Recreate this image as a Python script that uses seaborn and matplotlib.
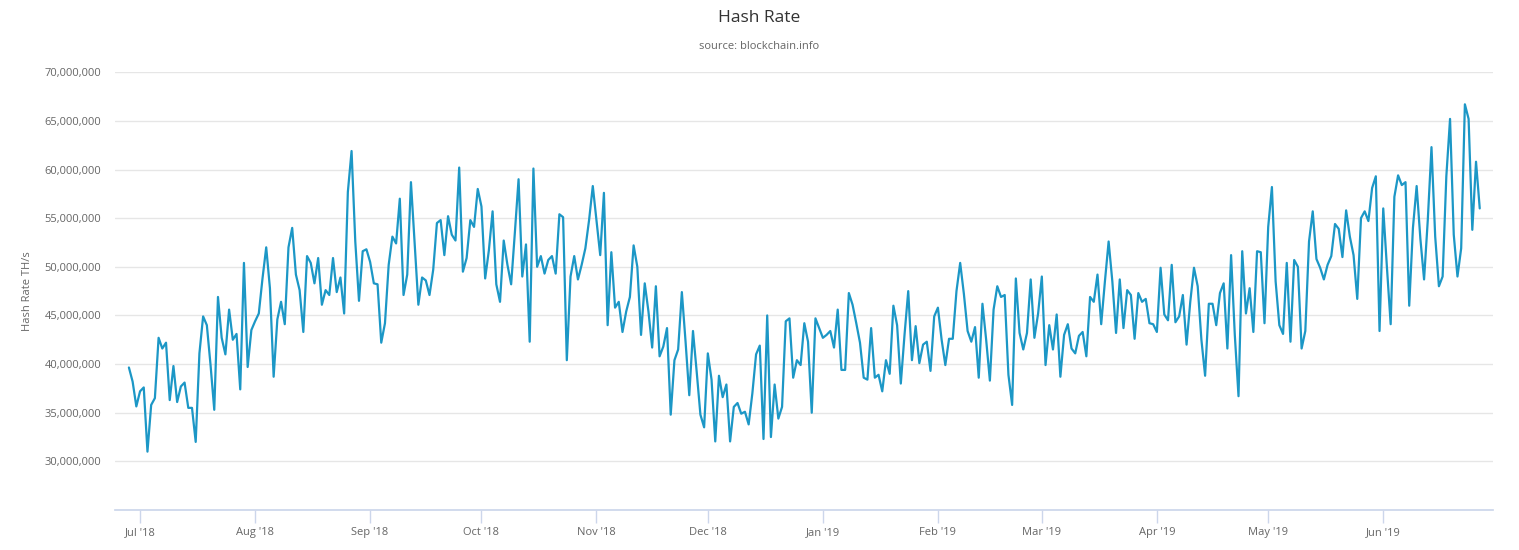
import pandas as pd
import matplotlib.pyplot as plt
import matplotlib.dates as mdates
import seaborn as sns
from matplotlib.ticker import FuncFormatter

# 日度算力数据 (百万 TH/s), 2018-06-28 起
start_date = '2018-06-28'
hash_rate_m = [
    39.65, 38.2, 35.65, 37.2, 37.6, 31.0, 35.8, 36.5, 42.7, 41.6, 42.2, 36.3, 39.8, 36.1, 37.7,
    38.1, 35.5, 35.5, 32.0, 41.1, 44.9, 44.0, 39.9, 35.3, 46.9, 42.7, 41.0, 45.6, 42.5,
    43.1, 37.4, 50.4, 39.7, 43.5, 44.4, 45.2, 48.8, 52.0, 47.8, 38.7, 44.6, 46.4, 44.1, 52.0,
    54.0, 49.2, 47.6, 43.3, 51.1, 50.4, 48.3, 50.9, 46.1, 47.6, 47.1, 50.9, 47.4, 48.9, 45.2, 57.7,
    61.9, 52.6, 46.5, 51.6, 51.8, 50.5, 48.3, 48.2, 42.2, 44.2, 50.2, 53.1, 52.4, 57.0, 47.1,
    49.2, 58.7, 52.4, 46.1, 48.9, 48.6, 47.1, 49.7, 54.5, 54.8, 51.2, 55.2, 53.3, 52.7, 60.2,
    49.5, 50.9, 54.8, 54.1, 58.0, 56.2, 48.8, 51.7, 55.7, 48.2, 46.4, 52.7, 50.2, 48.2, 53.5,
    59.0, 49.0, 52.3, 42.3, 60.1, 50.0, 51.1, 49.3, 50.7, 51.1, 49.3, 55.4, 55.1, 40.4, 49.0, 51.1,
    48.7, 50.2, 51.9, 54.8, 58.3, 54.8, 51.2, 57.6, 44.0, 51.5, 45.8, 46.4, 43.3, 45.4, 46.9,
    52.2, 50.0, 43.0, 48.3, 45.4, 41.7, 48.0, 40.8, 41.8, 43.7, 34.8, 40.4, 41.5, 47.4, 42.3, 36.8,
    43.4, 39.2, 34.8, 33.5, 41.1, 38.4, 32.05, 38.8, 36.6, 37.9, 32.05, 35.6, 36.0, 34.9, 35.1,
    33.8, 37.0, 41.0, 41.9, 32.3, 45.0, 32.5, 37.9, 34.4, 35.6, 44.4, 44.7, 38.6, 40.4, 39.9, 44.2,
    42.3, 35.0, 44.7, 43.7, 42.7, 43.0, 43.4, 41.7, 45.6, 39.4, 39.4, 47.3, 46.1, 44.2, 42.2,
    38.6, 38.4, 43.7, 38.6, 38.9, 37.2, 40.4, 39.0, 46.0, 44.0, 38.0, 43.0, 47.5, 40.4, 43.9, 40.1,
    42.0, 42.3, 39.3, 44.9, 45.8, 42.5, 39.9, 42.6, 42.6, 47.5, 50.4, 47.2, 43.4, 42.3, 43.8,
    38.6, 46.2, 42.5, 38.3, 45.6, 48.0, 46.9, 47.1, 38.9, 35.8, 48.8, 43.2, 41.5, 43.2, 48.7,
    42.7, 45.2, 49.0, 39.9, 44.0, 41.5, 45.1, 38.7, 43.0, 44.1, 41.6, 41.1, 42.9, 43.3, 40.8,
    46.9, 46.4, 49.2, 44.1, 48.5, 52.6, 48.5, 43.2, 48.7, 43.7, 47.6, 47.1, 42.6, 47.3, 46.4, 46.7,
    44.2, 44.1, 43.3, 49.9, 45.1, 44.5, 50.2, 44.3, 44.9, 47.1, 42.0, 46.4, 49.9, 48.0, 42.5,
    38.8, 46.2, 46.2, 44.0, 47.3, 48.3, 41.6, 51.2, 43.0, 36.7, 51.6, 45.2, 47.8, 43.3, 51.6, 51.5,
    44.2, 54.1, 58.2, 48.5, 44.0, 43.1, 50.4, 42.3, 50.7, 50.0, 41.6, 43.4, 52.6, 55.7, 50.8,
    49.9, 48.7, 50.2, 51.1, 54.4, 53.9, 51.0, 55.8, 53.1, 51.2, 46.7, 55.0, 55.7, 54.7, 58.1, 59.3,
    43.4, 56.0, 49.9, 44.1, 57.2, 59.4, 58.4, 58.7, 46.0, 54.0, 58.3, 52.9, 48.7, 54.8, 62.3,
    53.1, 48.0, 49.0, 59.3, 65.2, 53.3, 49.0, 51.9, 66.7, 65.2, 53.8, 60.8, 56.0,
]
y_ticks = [30e6, 35e6, 40e6, 45e6, 50e6, 55e6, 60e6, 65e6, 70e6]

df = pd.DataFrame({
    'Date': pd.date_range(start_date, periods=len(hash_rate_m), freq='D'),
    'HashRate': [v * 1e6 for v in hash_rate_m],
})

sns.set_theme(style='white')
plt.rcParams['font.family'] = ['Open Sans', 'DejaVu Sans']

fig = plt.figure(figsize=(15.19, 5.5), dpi=100)
ax = fig.add_axes([0.0757, 0.0727, 0.907, 0.796])

sns.lineplot(data=df, x='Date', y='HashRate', ax=ax, color='#1c97c6', linewidth=1.6)

ax.set_ylim(25e6, 70e6)
ax.set_yticks(y_ticks)
ax.yaxis.set_major_formatter(FuncFormatter(lambda v, p: f'{v:,.0f}'))
ax.set_xlim(pd.Timestamp('2018-06-24 06:00'), pd.Timestamp('2019-06-30 12:00'))
ax.xaxis.set_major_locator(mdates.MonthLocator())
ax.xaxis.set_major_formatter(mdates.DateFormatter("%b '%y"))

ax.grid(True, axis='y', color='#e6e6e6', linewidth=1)
ax.grid(False, axis='x')
for s in ['top', 'right', 'left']:
    ax.spines[s].set_visible(False)
ax.spines['bottom'].set_color('#ccd6eb')
ax.tick_params(axis='x', colors='#ccd6eb', length=9, width=1, labelcolor='#666666',
               labelsize=8, pad=3, bottom=True)
ax.tick_params(axis='y', length=0, labelcolor='#666666', labelsize=8, pad=10)

ax.set_xlabel('')
ax.set_ylabel('Hash Rate TH/s', color='#666666', fontsize=8, labelpad=8)

fig.text(0.5, 0.968, 'Hash Rate', ha='center', va='center', fontsize=12.5, color='#333333')
fig.text(0.5, 0.915, 'source: blockchain.info', ha='center', va='center', fontsize=8,
         color='#666666')

plt.savefig('out.png', dpi=100)
plt.close()
